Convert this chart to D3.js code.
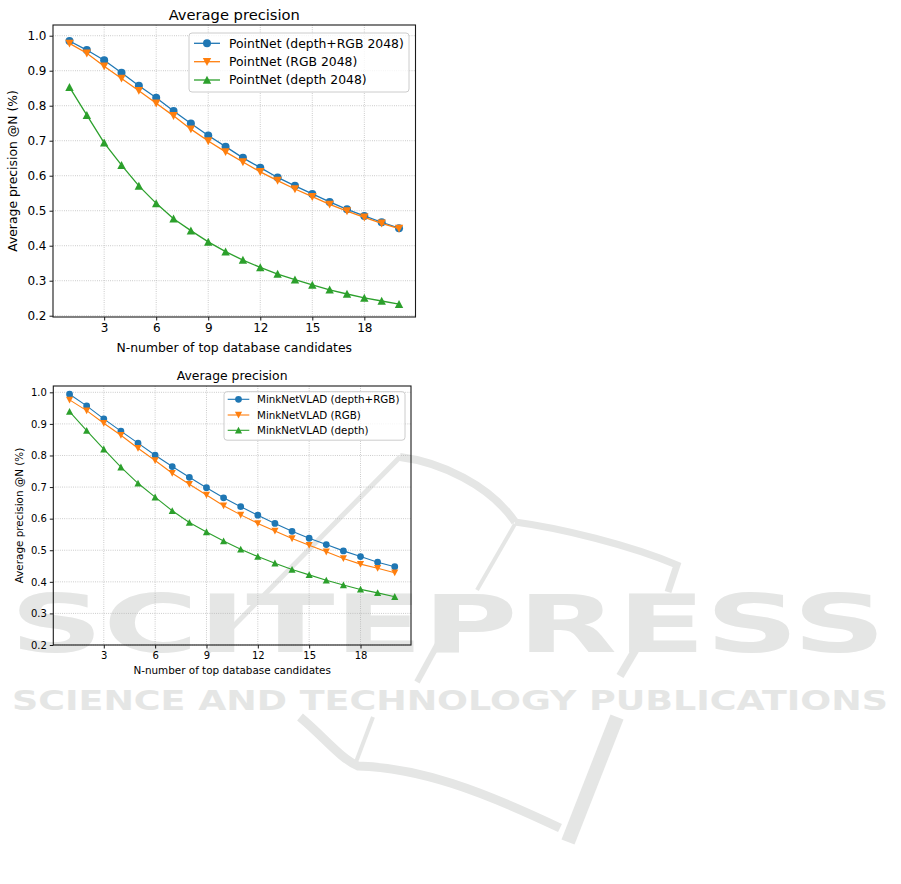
<!DOCTYPE html>
<html><head><meta charset="utf-8">
<script src="https://cdn.jsdelivr.net/npm/d3@7"></script>
<style>
body{margin:0;background:#fff}
svg{display:block}
text{font-family:"DejaVu Sans",sans-serif}
</style>
</head><body>
<svg id="c" width="901" height="884"></svg>
<script>
// ---------- data ----------
const topN = [1,2,3,4,5,6,7,8,9,10,11,12,13,14,15,16,17,18,19,20];
const xTicks = [3,6,9,12,15,18];
const yTicks = [0.2,0.3,0.4,0.5,0.6,0.7,0.8,0.9,1.0];

const pointnetDepthRGB = [0.985,0.959,0.930,0.894,0.857,0.823,0.785,0.749,0.715,0.683,0.651,0.623,0.595,0.571,0.548,0.525,0.504,0.485,0.467,0.450];
const pointnetRGB      = [0.978,0.950,0.913,0.878,0.843,0.807,0.771,0.733,0.699,0.668,0.639,0.611,0.586,0.562,0.540,0.518,0.499,0.481,0.464,0.449];
const pointnetDepth    = [0.853,0.773,0.694,0.630,0.571,0.521,0.477,0.443,0.411,0.383,0.359,0.338,0.319,0.303,0.288,0.274,0.262,0.251,0.242,0.233];

const minkDepthRGB = [0.994,0.957,0.916,0.877,0.839,0.801,0.765,0.731,0.698,0.666,0.638,0.611,0.585,0.560,0.538,0.518,0.498,0.480,0.462,0.448];
const minkRGB      = [0.976,0.942,0.902,0.864,0.823,0.784,0.744,0.709,0.675,0.641,0.612,0.585,0.561,0.537,0.516,0.495,0.474,0.456,0.443,0.429];
const minkDepth    = [0.939,0.879,0.820,0.763,0.712,0.668,0.625,0.588,0.558,0.529,0.503,0.480,0.459,0.439,0.422,0.405,0.390,0.376,0.365,0.353];

const labels1 = ["PointNet (depth+RGB 2048)","PointNet (RGB 2048)","PointNet (depth 2048)"];
const labels2 = ["MinkNetVLAD (depth+RGB)","MinkNetVLAD (RGB)","MinkNetVLAD (depth)"];
const titleText = "Average precision";
const xLabelText = "N-number of top database candidates";
const yLabelText = "Average precision @N (%)";
const wmBig = "SCITEPRESS";
const wmSmall = "SCIENCE AND TECHNOLOGY PUBLICATIONS";

const colors = ["#1f77b4","#ff7f0e","#2ca02c"];
const markers = ["circle","down","up"];

const svg = d3.select("#c");

// ---------- watermark ----------
const wm = svg.append("g").attr("fill","#e5e6e5").attr("stroke","#e5e6e5");
wm.append("text").text(wmBig)
  .attr("x",10).attr("y",652).attr("font-size",80).attr("font-weight","bold")
  .attr("textLength",876).attr("lengthAdjust","spacingAndGlyphs").attr("stroke","none");
wm.append("text").text(wmSmall)
  .attr("x",12).attr("y",710).attr("font-size",27).attr("font-weight","bold")
  .attr("textLength",876).attr("lengthAdjust","spacingAndGlyphs").attr("stroke","none");
const sw = [
  ["M207,653 L400,457",5],
  ["M400,457 C440,462 490,485 515,522",8],
  ["M515,522 C560,528 630,545 677,565 L668,592",7],
  ["M515,524 L477,590",4],
  ["M440,640 L417,682",6],
  ["M643,637 L620,676",8],
  ["M300,717 C325,738 340,758 358,766 C420,768 480,790 560,828",9],
  ["M373,717 L356,762",4],
  ["M617,717 L568,842",14]
];
sw.forEach(([d,w]) => wm.append("path").attr("d",d).attr("fill","none").attr("stroke-width",w));

// ---------- chart drawing ----------
function markerPath(type, s){
  if(type==="circle") return d3.symbol(d3.symbolCircle, Math.PI*s*s)();
  if(type==="up") return `M0,${-s}L${s},${s*0.9}L${-s},${s*0.9}Z`;
  return `M0,${s}L${s},${-s*0.9}L${-s},${-s*0.9}Z`;
}

function drawChart(cfg){
  const {series, labels, box, yDomain, fs} = cfg;
  const g = svg.append("g");
  const x = d3.scaleLinear().domain([0.05,20.95]).range([box.l, box.r]);
  const y = d3.scaleLinear().domain(yDomain).range([box.b, box.t]);

  // grid
  const grid = g.append("g").attr("stroke","#b0b0b0").attr("stroke-width",0.8).attr("stroke-dasharray","0.8,1.4");
  xTicks.forEach(t => grid.append("line").attr("x1",x(t)).attr("x2",x(t)).attr("y1",box.t).attr("y2",box.b));
  yTicks.forEach(t => grid.append("line").attr("x1",box.l).attr("x2",box.r).attr("y1",y(t)).attr("y2",y(t)));

  // axes
  const xa = g.append("g").attr("transform",`translate(0,${box.b})`)
    .call(d3.axisBottom(x).tickValues(xTicks).tickSize(3.5).tickPadding(3).tickFormat(d3.format("d")));
  const ya = g.append("g").attr("transform",`translate(${box.l},0)`)
    .call(d3.axisLeft(y).tickValues(yTicks).tickSize(3.5).tickPadding(3).tickFormat(d3.format(".1f")));
  [xa,ya].forEach(a => {
    a.select(".domain").remove();
    a.selectAll("line").attr("stroke","#000").attr("stroke-width",0.9);
    a.selectAll("text").attr("font-family","DejaVu Sans").attr("font-size",fs.tick).attr("fill","#000");
  });

  // lines + markers
  series.forEach((vals,i) => {
    const line = d3.line().x((d,j)=>x(topN[j])).y(d=>y(d)).curve(d3.curveLinear);
    g.append("path").datum(vals).attr("d",line).attr("fill","none")
      .attr("stroke",colors[i]).attr("stroke-width",cfg.lw);
    g.append("g").selectAll("path").data(vals).join("path")
      .attr("transform",(d,j)=>`translate(${x(topN[j])},${y(d)})`)
      .attr("d",markerPath(markers[i], markers[i]==="circle"?cfg.ms:cfg.ms*1.05))
      .attr("fill",colors[i]);
  });

  // frame
  g.append("rect").attr("x",box.l).attr("y",box.t).attr("width",box.r-box.l).attr("height",box.b-box.t)
    .attr("fill","none").attr("stroke","#1a1a1a").attr("stroke-width",1.1);

  // title & labels
  g.append("text").text(titleText).attr("x",(box.l+box.r)/2).attr("y",cfg.titleY)
    .attr("text-anchor","middle").attr("font-size",fs.title);
  g.append("text").text(xLabelText).attr("x",(box.l+box.r)/2).attr("y",cfg.xLabelY)
    .attr("text-anchor","middle").attr("font-size",fs.label);
  g.append("text").text(yLabelText)
    .attr("transform",`translate(${cfg.yLabelX},${(box.t+box.b)/2}) rotate(-90)`)
    .attr("text-anchor","middle").attr("font-size",fs.label);

  // legend
  const L = cfg.legend;
  const lg = g.append("g");
  lg.append("rect").attr("x",L.x).attr("y",L.y).attr("width",L.w).attr("height",L.h).attr("rx",3)
    .attr("fill","#fff").attr("fill-opacity",0.8).attr("stroke","#cccccc").attr("stroke-width",1);
  labels.forEach((lab,i) => {
    const yy = L.rows[i];
    lg.append("line").attr("x1",L.hx1).attr("x2",L.hx2).attr("y1",yy).attr("y2",yy)
      .attr("stroke",colors[i]).attr("stroke-width",cfg.lw);
    lg.append("path").attr("transform",`translate(${(L.hx1+L.hx2)/2},${yy})`)
      .attr("d",markerPath(markers[i], markers[i]==="circle"?cfg.ms:cfg.ms*1.05)).attr("fill",colors[i]);
    lg.append("text").text(lab).attr("x",L.tx).attr("y",yy).attr("dy","0.35em").attr("font-size",fs.legend);
  });
}

drawChart({
  series:[pointnetDepthRGB, pointnetRGB, pointnetDepth], labels:labels1,
  box:{l:53,r:415.5,t:25,b:317}, yDomain:[0.1963,1.0306],
  fs:{tick:12,label:12.4,title:14.7,legend:12.4},
  lw:1.3, ms:4,
  titleY:20, xLabelY:352, yLabelX:17,
  legend:{x:189,y:33,w:220,h:59,rows:[43.3,61.7,80],hx1:194,hx2:220,tx:229}
});

drawChart({
  series:[minkDepthRGB, minkRGB, minkDepth], labels:labels2,
  box:{l:53.3,r:411,t:386,b:645}, yDomain:[0.2,1.02],
  fs:{tick:10,label:10.4,title:12.4,legend:10.3},
  lw:1.1, ms:3.4,
  titleY:380, xLabelY:674, yLabelX:23,
  legend:{x:224,y:391.7,w:181,h:48.5,rows:[399.3,415,430.3],hx1:227.7,hx2:249.3,tx:257}
});
</script>
</body></html>
